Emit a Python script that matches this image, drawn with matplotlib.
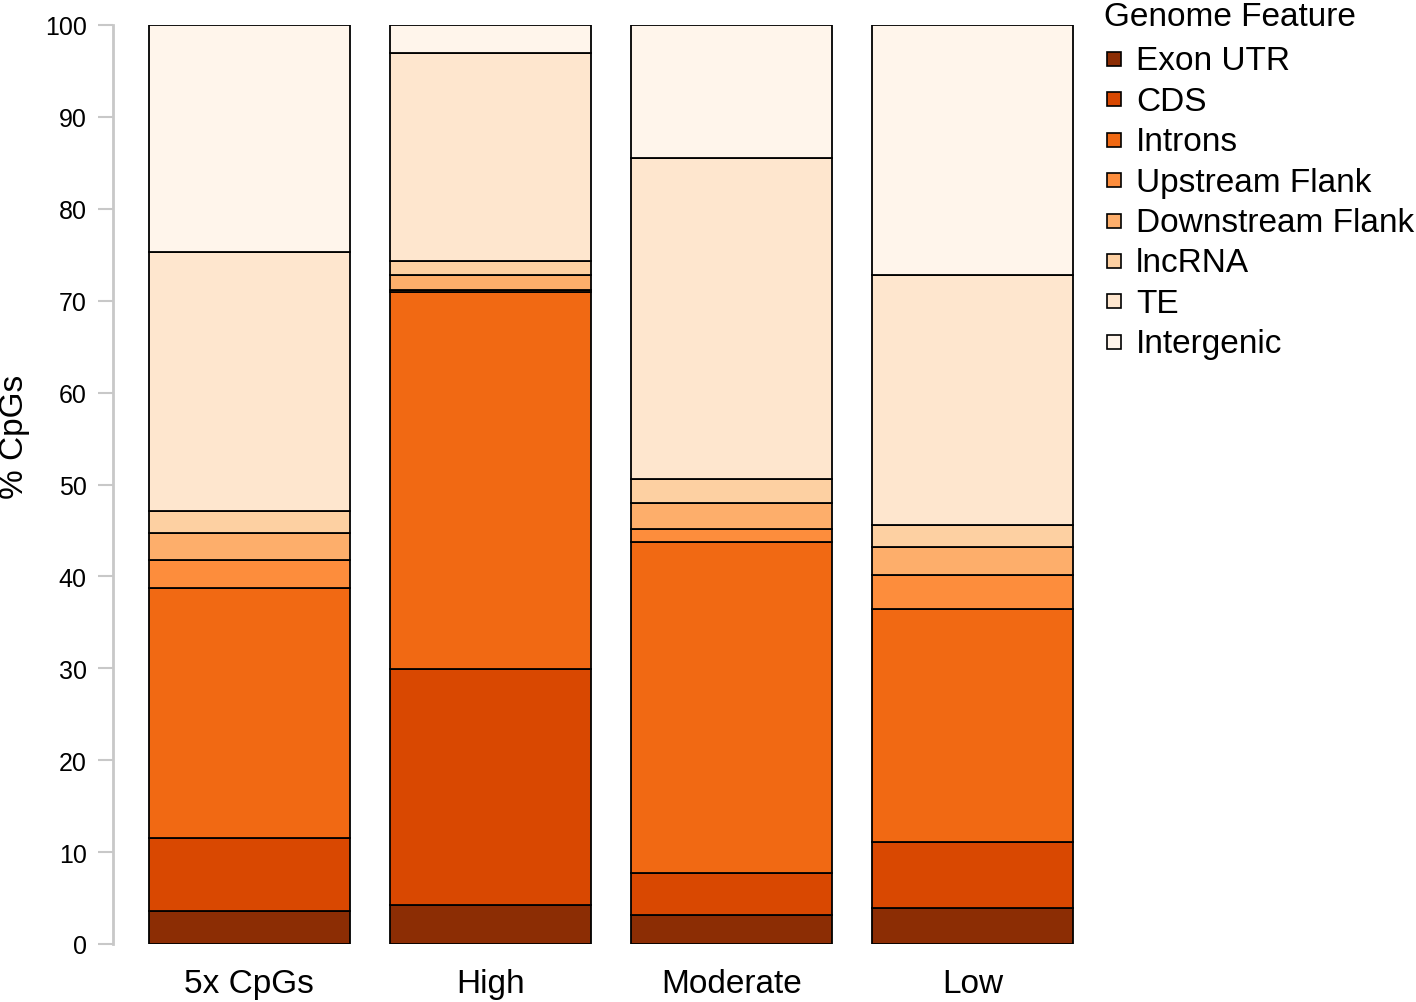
import matplotlib
matplotlib.use('Agg')
import matplotlib.pyplot as plt
from matplotlib.patches import Rectangle
import numpy as np

plt.rcParams['font.family'] = ['Liberation Sans', 'DejaVu Sans']

groups = ['5x CpGs', 'High', 'Moderate', 'Low']
features = ['Exon UTR', 'CDS', 'Introns', 'Upstream Flank', 'Downstream Flank',
            'lncRNA', 'TE', 'Intergenic']
colors = ['#8c2d04', '#d94801', '#f16913', '#fd8d3c', '#fdae6b',
          '#fdd0a2', '#fee6ce', '#fff5eb']

# % CpGs per feature, one list per group (bottom to top)
cpg_5x = [3.6, 7.9, 27.2, 3.1, 2.9, 2.4, 28.2, 24.7]
high = [4.2, 25.7, 41.0, 0.3, 1.6, 1.5, 22.7, 3.0]
moderate = [3.2, 4.5, 36.0, 1.5, 2.8, 2.6, 34.9, 14.5]
low = [3.9, 7.2, 25.4, 3.7, 3.0, 2.4, 27.2, 27.2]

data = np.array([cpg_5x, high, moderate, low])

W, H = 1416, 1003
fig = plt.figure(figsize=(W / 100, H / 100), dpi=100)
ax = fig.add_axes([113 / W, 1 - 945 / H, 980 / W, 919 / H])

x = np.arange(len(groups))
bottom = np.zeros(len(groups))
for i, feat in enumerate(features):
    ax.bar(x, data[:, i], width=1 / 1.2, bottom=bottom, color=colors[i],
           edgecolor='black', linewidth=1.3, label=feat)
    bottom += data[:, i]

ax.set_xlim(-0.566, 3.5)
ax.set_ylim(0, 100)
for s in ['top', 'right', 'bottom']:
    ax.spines[s].set_visible(False)
ax.spines['left'].set_color('#c8c8c8')
ax.spines['left'].set_linewidth(2)
ax.set_yticks(np.arange(0, 101, 10))
ax.tick_params(axis='y', length=11, width=1.5, color='#c8c8c8', labelsize=18, pad=8)
ax.set_xticks(x)
ax.set_xticklabels(groups, fontsize=24)
ax.tick_params(axis='x', length=0, pad=17)

fig.text(15 / W, 1 - 437 / H, '% CpGs', rotation=90, fontsize=24,
         ha='center', va='center')

# legend
fig.text(1104 / W, 1 - 17 / H, 'Genome Feature', fontsize=24, ha='left', va='center')
for i, feat in enumerate(features):
    yc = 60 + i * 40.4
    fig.patches.append(Rectangle((1107 / W, 1 - (yc + 7) / H), 14 / W, 14 / H,
                                 transform=fig.transFigure, facecolor=colors[i],
                                 edgecolor='black', linewidth=1.2))
    fig.text(1136 / W, 1 - (yc + 2) / H, feat, fontsize=24, ha='left', va='center')

fig.savefig('out.png', dpi=100)
